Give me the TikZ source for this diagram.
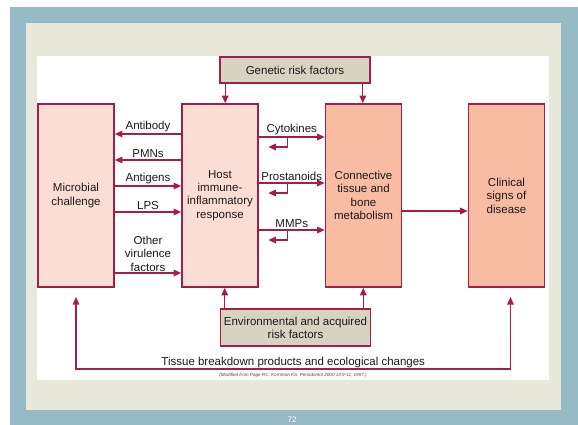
\documentclass[tikz,border=0pt]{standalone}
\usepackage{fontspec}
\setmainfont{Liberation Sans}
\usetikzlibrary{arrows.meta,calc}
\definecolor{crim}{RGB}{165,30,75}
\definecolor{blush}{RGB}{250,222,212}
\definecolor{salmon}{RGB}{247,188,162}
\definecolor{stone}{RGB}{214,211,193}
\definecolor{slate}{RGB}{150,186,198}
\definecolor{cream}{RGB}{232,232,219}
\definecolor{ink}{RGB}{30,25,25}
\tikzset{
  >={Triangle[length=7.5pt,width=6.5pt]},
  box/.style={draw=crim,fill=#1,line width=1.6pt,minimum width=76pt,minimum height=183pt,
    align=center,font=\fontsize{11.5}{13.4}\selectfont,text=ink,inner sep=1pt},
  box/.default=blush,
  risk/.style={draw=crim,fill=stone,line width=1.6pt,minimum width=150pt,
    align=center,font=\fontsize{11.5}{13}\selectfont,text=ink},
  flow/.style={->,line width=1.3pt,draw=crim},
  tag/.style={font=\fontsize{11.5}{13.4}\selectfont,text=ink,align=center,inner sep=1.5pt},
}

\begin{document}
\begin{tikzpicture}[x=1pt,y=-1pt]
    % slide frame
    \fill[white] (0,0) rectangle (578,425);
    \fill[slate] (10,7) rectangle (578,425);
    \fill[cream] (26,23) rectangle (561,410);
    \fill[white] (37,56) rectangle (549,380);
    \useasboundingbox (0,0) rectangle (578,425);
    \node[box] (mic) at (76,195.5) {Microbial\\challenge};
    \node[box] (host) at (220,195.5) {Host\\immune-\\inflammatory\\response};
    \node[box=salmon] (conn) at (363.5,195.5) {Connective\\tissue and\\bone\\metabolism};
    \node[box=salmon] (clin) at (506.5,195.5) {Clinical\\signs of\\disease};
    \node[risk,minimum height=26pt] (gen) at (295,70) {Genetic risk factors};
    \node[risk,minimum height=37pt] (env) at (295.5,327.5) {Environmental and acquired\\risk factors};
    \draw[flow] ([xshift=6]gen.south west) -- ([xshift=6]gen.south west |- host.north);
    \draw[flow] ([xshift=-8]gen.south east) -- ([xshift=-8]gen.south east |- conn.north);
    \draw[flow] ([xshift=5]env.north west) -- ([xshift=5]env.north west |- host.south);
    \draw[flow] ([xshift=-8]env.north east) -- ([xshift=-8]env.north east |- conn.south);
    \foreach \y/\t in {134/Antibody,160/PMNs}
      \draw[flow,<-] (mic.east |- 0,\y) -- node[tag,above]{\t} (host.west |- 0,\y);
    \foreach \y/\t in {186/Antigens,212/LPS}
      \draw[flow] (mic.east |- 0,\y) -- node[tag,above]{\t} (host.west |- 0,\y);
    \draw[flow] (mic.east |- 0,273) -- node[tag,above,inner sep=1pt]{Other\\virulence\\factors} (host.west |- 0,273);
    \foreach \y/\t in {137/Cytokines,183/Prostanoids,230/MMPs}{
      \draw[flow] (host.east |- 0,\y) -- node[tag,above]{\t} (conn.west |- 0,\y);
      \draw[flow] ([xshift=28.5]host.east |- 0,\y) |- ([xshift=9.5]host.east |- 0,\y+10);
    }
    \draw[flow] (conn.east |- 0,211) -- (clin.west |- 0,211);
    \coordinate (mtip) at (76,297);
    \coordinate (ctip) at (510.5,297);
    \draw[flow,<->] (mtip) -- (76,369) -- node[tag,above=-1pt]{Tissue breakdown products and ecological changes} (510.5,369) -- (ctip);
    \node[font=\fontsize{4.6}{5}\selectfont\itshape,text=ink!80] (cite) at (293,375) {(Modified from Page RC, Kornman KS: Periodontol 2000 14:9-11, 1997.)};
    \node[font=\fontsize{8}{9}\selectfont,text=white!92!slate] (pg) at (292,420) {72};
\end{tikzpicture}
\end{document}
